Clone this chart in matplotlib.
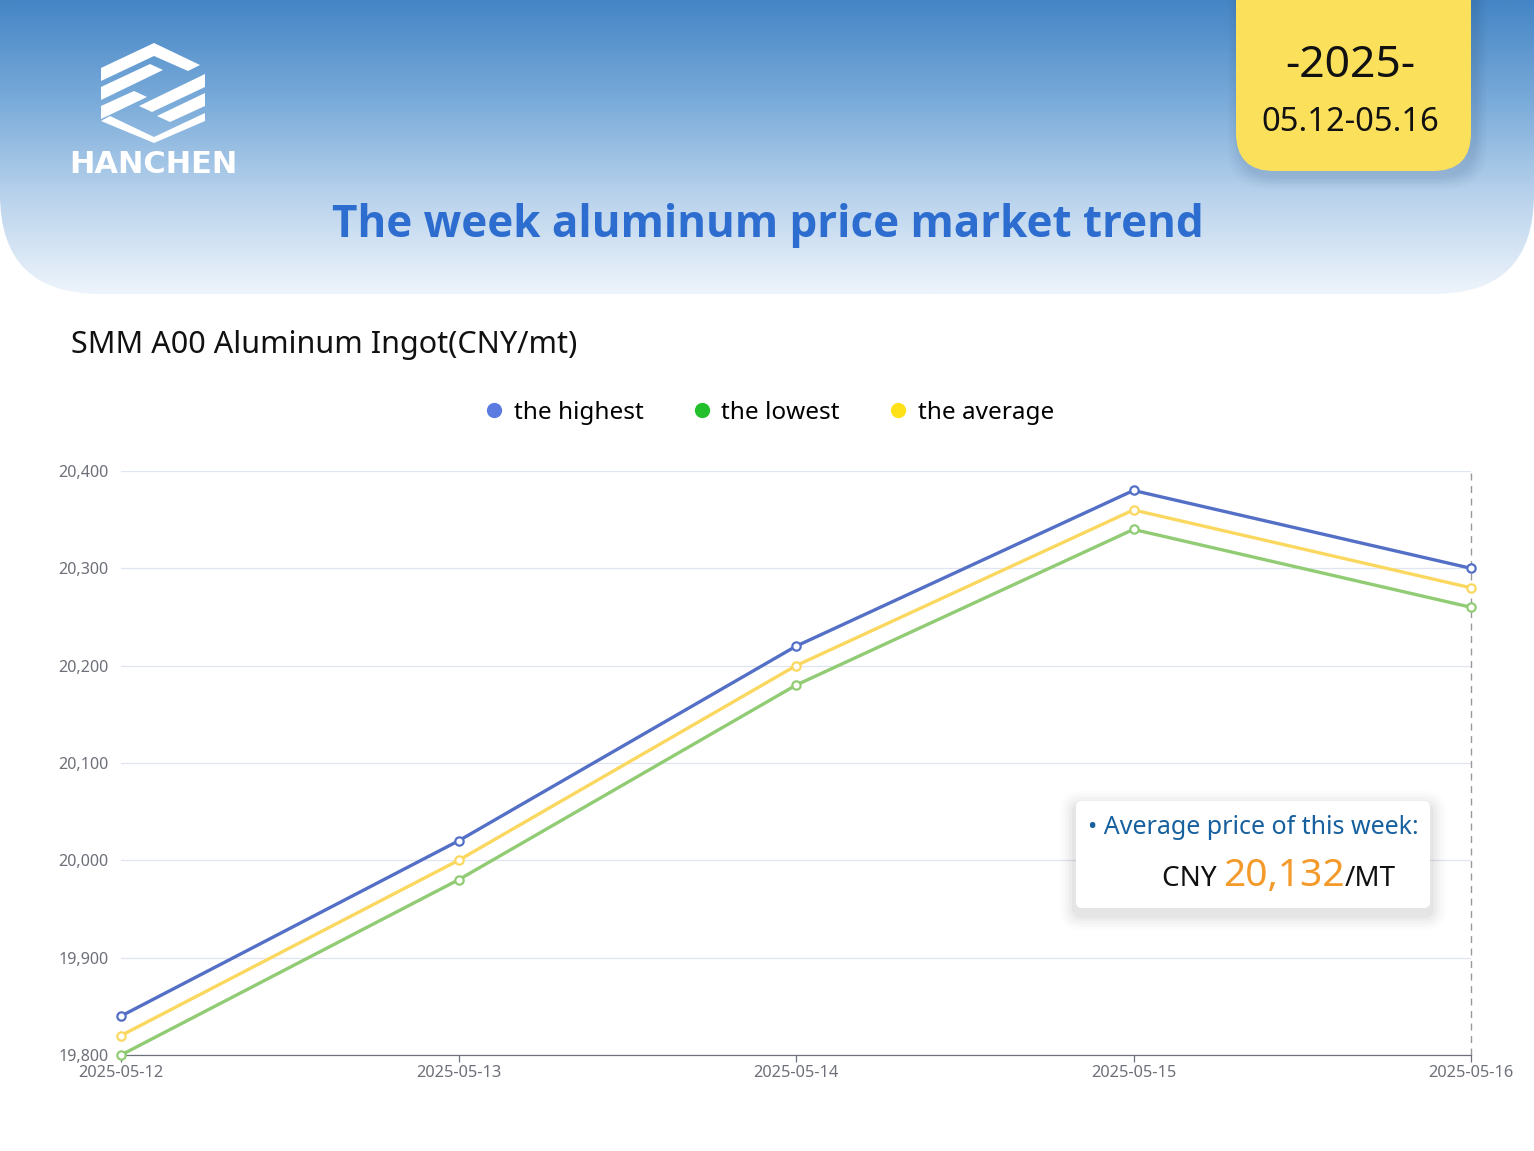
import matplotlib
matplotlib.use('Agg')
import numpy as np
import matplotlib.pyplot as plt
from matplotlib.patches import FancyBboxPatch, Polygon
from matplotlib.lines import Line2D
from matplotlib.colors import LinearSegmentedColormap

plt.rcParams['font.family'] = ['Noto Sans', 'DejaVu Sans']

# data
dates = ['2025-05-12', '2025-05-13', '2025-05-14', '2025-05-15', '2025-05-16']
highest = [19840, 20020, 20220, 20380, 20300]
lowest = [19800, 19980, 20180, 20340, 20260]
average = [19820, 20000, 20200, 20360, 20280]
week_avg = np.mean(average)

yticks = [19800, 19900, 20000, 20100, 20200, 20300, 20400]

W, H = 1534, 1151
fig = plt.figure(figsize=(W / 100, H / 100), dpi=100, facecolor='white')

# background layer in pixel units
bg = fig.add_axes([0, 0, 1, 1], zorder=0)
bg.set_xlim(0, W)
bg.set_ylim(H, 0)
bg.axis('off')

# header with gradient and rounded bottom corners
cmap = LinearSegmentedColormap.from_list(
    'hdr', ['#4585c5', '#78aad9', '#b8d2ec', '#eef4fb'])
grad = np.linspace(0, 1, 300).reshape(-1, 1)
img = bg.imshow(grad, cmap=cmap, extent=[0, W, 294, 0], aspect='auto',
                interpolation='bicubic', zorder=1)
clip = FancyBboxPatch((0, -200), W, 494, boxstyle='round,pad=0,rounding_size=100',
                      transform=bg.transData, facecolor='none', edgecolor='none')
bg.add_patch(clip)
img.set_clip_path(clip)

# logo
logo = [
    [(101, 68), (154, 43), (200, 65), (188, 71), (154, 56), (101, 81)],
    [(101, 87), (150, 64), (163, 70), (101, 100)],
    [(205, 74), (205, 87), (152, 112), (139, 106)],
    [(101, 106), (134, 91), (147, 97), (101, 119)],
    [(205, 93), (205, 106), (170, 122), (157, 116)],
    [(110, 116), (154, 137), (205, 113), (205, 121), (154, 143), (101, 121)],
]
for pts in logo:
    bg.add_patch(Polygon(pts, closed=True, facecolor='white', edgecolor='none', zorder=3))
bg.text(153, 164, 'HANCHEN', color='white', fontsize=22, fontweight='bold',
        family='DejaVu Sans', ha='center', va='center', zorder=3)

# date badge with shadow
for i, a in enumerate([0.02, 0.025, 0.03, 0.035, 0.04]):
    g = 12 - i * 2.5
    bg.add_patch(FancyBboxPatch((1236 - g + 4, -60), 235 + 2 * g, 231 + g + 6,
                                boxstyle='round,pad=0,rounding_size=40',
                                facecolor='#1f3f66', edgecolor='none', alpha=a, zorder=2))
bg.add_patch(FancyBboxPatch((1236, -60), 235, 231, boxstyle='round,pad=0,rounding_size=38',
                            facecolor='#fbe05c', edgecolor='none', zorder=3))
bg.text(1350, 66, '-2025-', fontsize=32, ha='center', va='center', color='#111111', zorder=4)
bg.text(1350, 122, '05.12-05.16', fontsize=23.5, ha='center', va='center', color='#111111', zorder=4)

bg.text(768, 225, 'The week aluminum price market trend', fontsize=31.7, fontweight='bold',
        family=['Open Sans', 'DejaVu Sans'], color='#2d6dcf', ha='center', va='center', zorder=4)
bg.text(71, 345, 'SMM A00 Aluminum Ingot(CNY/mt)', fontsize=22, color='#111111',
        ha='left', va='center', zorder=4)

# chart
ax = fig.add_axes([121 / W, 1 - 1055 / H, (1471 - 121) / W, (1055 - 471) / H], zorder=1)
ax.set_facecolor('none')
x = np.arange(len(dates))
ax.plot(x, lowest, color='#91cc75', lw=2.4, marker='o', ms=6, mfc='white', mew=1.6,
        zorder=3, clip_on=False)
ax.plot(x, average, color='#fad860', lw=2.4, marker='o', ms=6, mfc='white', mew=1.6,
        zorder=3, clip_on=False)
ax.plot(x, highest, color='#5470c6', lw=2.4, marker='o', ms=6, mfc='white', mew=1.6,
        zorder=4, clip_on=False)
ax.axvline(x[-1], color='#999999', lw=1.0, ls=(0, (5, 4)), zorder=2, clip_on=False)

ax.set_xlim(0, len(dates) - 1)
ax.set_ylim(yticks[0], yticks[-1])
ax.set_yticks(yticks)
ax.set_yticklabels([f'{v:,}' for v in yticks])
ax.set_xticks(x)
ax.set_xticklabels(dates)
ax.yaxis.grid(True, color='#e0e6f1', lw=0.9)
ax.set_axisbelow(True)
for s in ['top', 'right', 'left']:
    ax.spines[s].set_visible(False)
ax.spines['bottom'].set_color('#6e7079')
ax.spines['bottom'].set_linewidth(0.9)
ax.tick_params(axis='y', length=0, pad=9, labelsize=11.6, labelcolor='#6e7079')
ax.tick_params(axis='x', length=5, width=0.9, color='#6e7079', pad=2,
               labelsize=11.8, labelcolor='#6e7079')

handles = [Line2D([], [], ls='none', marker='o', ms=11, mec='none', mfc=c)
           for c in ['#5b7be0', '#22c02b', '#ffe11a']]
fig.legend(handles, ['the highest', 'the lowest', 'the average'], loc='center',
           bbox_to_anchor=(768 / W, 1 - 413 / H), ncol=3, frameon=False, fontsize=17.5,
           handletextpad=0.3, columnspacing=1.9, handlelength=1.0)

# tooltip box on top layer
top = fig.add_axes([0, 0, 1, 1], zorder=5)
top.set_xlim(0, W)
top.set_ylim(H, 0)
top.axis('off')
top.patch.set_alpha(0)
for i, a in enumerate([0.012, 0.015, 0.02, 0.025, 0.03]):
    g = 16 - i * 3
    top.add_patch(FancyBboxPatch((1076 - g, 801 - g + 6), 354 + 2 * g, 107 + 2 * g,
                                 boxstyle='round,pad=0,rounding_size=%d' % (6 + g),
                                 facecolor='#000000', edgecolor='none', alpha=a))
top.add_patch(FancyBboxPatch((1076, 801), 354, 107, boxstyle='round,pad=0,rounding_size=6',
                             facecolor='white', edgecolor='none'))
top.text(1088, 827, '\u2022 Average price of this week:', fontsize=18, color='#17609f',
         ha='left', va='center')
t3 = top.text(1396, 886, '/MT', fontsize=20, color='#111111', ha='right', va='baseline')
fig.canvas.draw()
r = fig.canvas.get_renderer()
w3 = t3.get_window_extent(r).width
t2 = top.text(1396 - w3, 886, f'{week_avg:,.0f}', fontsize=28, color='#f39a2b',
              ha='right', va='baseline')
w2 = t2.get_window_extent(r).width
top.text(1396 - w3 - w2, 886, 'CNY ', fontsize=20, color='#111111', ha='right', va='baseline')

fig.savefig('out.png', dpi=100, facecolor='white')
